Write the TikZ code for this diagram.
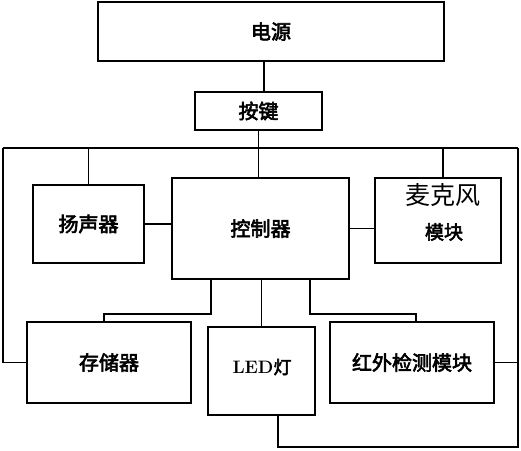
\documentclass[tikz,border=0pt]{standalone}
\usepackage{fontspec}
\newfontfamily\cjk[AutoFakeBold=3]{Noto Sans CJK SC}
\usetikzlibrary{calc}

\begin{document}
\begin{tikzpicture}[x=1pt,y=-1pt,
 blk/.style={draw,line width=1.8,inner sep=0,font=\cjk\bfseries\fontsize{20}{20}\selectfont},
 wire/.style={line width=1.8}]
\useasboundingbox (0,0) rectangle (521,450);

%boxes
\node[blk,minimum width=346,minimum height=59] (power) at (271,31.5) {电源};
\node[blk,minimum width=127,minimum height=38] (key) at (258.5,111) {按键};
\node[blk,minimum width=111,minimum height=78] (spk) at (88.5,224) {扬声器};
\node[blk,minimum width=177,minimum height=101] (ctrl) at (260.5,228.5) {控制器};
\node[blk,minimum width=126,minimum height=85] (mic) at (438,220.5) {};
\node[blk,minimum width=164,minimum height=81] (store) at (109,362.5) {存储器};
\node[blk,minimum width=107,minimum height=88] (led) at (261.5,371) {};
\node[blk,minimum width=164,minimum height=81] (ir) at (412,362.5) {红外检测模块};

%texts inside mic and led
\node[font=\cjk\fontsize{25}{25}\selectfont] (micA) at (443,195) {麦克风};
\node[font=\cjk\bfseries\fontsize{19}{19}\selectfont] (micB) at (444,232) {模块};
\node[font=\bfseries\fontsize{18}{18}\selectfont] (ledT) at (262,367) {LED{\cjk 灯}};

%bus
\coordinate (busL) at (3,148);
\coordinate (busR) at (518,148);
\coordinate (busRB) at (518,447);
\draw[wire] ([xshift=5.5]key.north) -- ([xshift=5.5]key.north |- power.south);
\draw[wire] (busL) -- (busR);
\draw[wire] (key.south) -- (key.south |- ctrl.north);
\draw[wire] (spk.north) -- (spk.north |- busL);
\draw[wire] ([xshift=5]mic.north) -- ([xshift=5]mic.north |- busR);
\draw[wire] (busL) |- (store.west);
\draw[wire] (busR) -- (busRB) -| ([xshift=16.5]led.south);
\draw[wire] (ir.east) -- (ir.east -| busR);

%side links
\draw[wire] (spk.east) -- (spk.east -| ctrl.west);
\draw[wire] (ctrl.east) -- (ctrl.east -| mic.west);

%lower links
\draw[wire] ([xshift=-49.5]ctrl.south) -- ++(0,34) -| ([xshift=-5]store.north);
\draw[wire] (ctrl.south -| led.north) -- (led.north);
\draw[wire] ([xshift=49.5]ctrl.south) -- ++(0,34) -| ([xshift=4]ir.north);

\end{tikzpicture}
\end{document}
